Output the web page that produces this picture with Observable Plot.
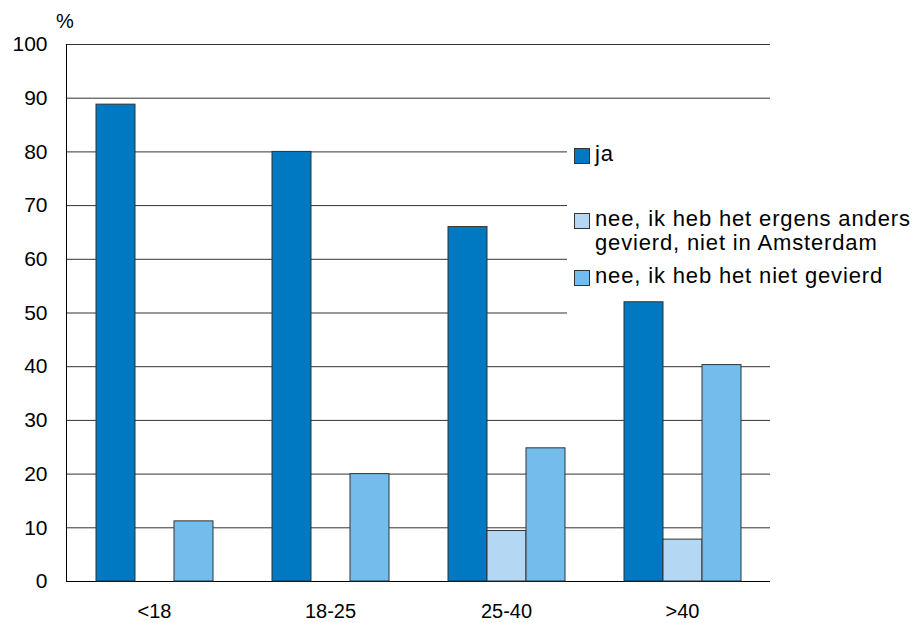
<!DOCTYPE html>
<html>
<head>
<meta charset="utf-8">
<script src="https://cdn.jsdelivr.net/npm/d3@7"></script>
<script src="https://cdn.jsdelivr.net/npm/@observablehq/plot@0.6"></script>
<style>
  html, body { margin: 0; padding: 0; background: white; }
  #wrap { position: relative; width: 916px; height: 623px; font-family: "Liberation Sans", Arial, sans-serif; color: #000; }
  #legend { position: absolute; left: 567px; top: 120px; width: 349px; height: 210px; background: white; }
  .sw { position: absolute; left: 7px; width: 14px; height: 14px; border: 1px solid #333; box-sizing: content-box; }
  .lt { position: absolute; left: 28px; font-size: 22px; letter-spacing: 0.85px; line-height: 24px; white-space: pre-line; }
  #pct { position: absolute; left: 56px; top: 10px; font-size: 20px; }
</style>
</head>
<body>
<div id="wrap"></div>
<script>
const categories = ["<18", "18-25", "25-40", ">40"];
const series = ["ja", "nee, ik heb het ergens anders gevierd, niet in Amsterdam", "nee, ik heb het niet gevierd"];
const legendLabels = ["ja", "nee, ik heb het ergens anders\ngevierd, niet in Amsterdam", "nee, ik heb het niet gevierd"];
const colors = ["#0079C2", "#B4D8F3", "#73BDEC"];
const ja = [88.8, 80, 66, 52];
const elders = [null, null, 9.4, 7.8];
const niet = [11.2, 20, 24.8, 40.3];
const yTicks = [0, 10, 20, 30, 40, 50, 60, 70, 80, 90, 100];

const values = [ja, elders, niet];
const data = [];
categories.forEach((c, i) => {
  series.forEach((s, j) => {
    const v = values[j][i];
    if (v != null) data.push({cat: c, series: s, value: v});
  });
});

const W = 916, H = 623;
const margins = {marginLeft: 66, marginRight: 146, marginTop: 44, marginBottom: 42};
const font = "\"Liberation Sans\", Arial, sans-serif";

// Layer 1: grid, axis lines, y tick labels
const grid = Plot.plot({
  width: W, height: H, ...margins,
  style: {fontFamily: font, fontSize: "21px", color: "#000", background: "white"},
  x: {domain: [0, 1], axis: null},
  y: {domain: [0, 100], ticks: yTicks, tickSize: 0, tickPadding: 19, label: null},
  marks: [
    Plot.ruleY(yTicks.filter(d => d > 0), {stroke: "#333", strokeWidth: 1}),
    Plot.ruleY([0], {stroke: "#000", strokeWidth: 1}),
    Plot.ruleX([0], {stroke: "#000", strokeWidth: 1})
  ]
});

// Layer 3: bars and category axis
const bars = Plot.plot({
  width: W, height: H, ...margins,
  style: {fontFamily: font, fontSize: "20px", color: "#000", background: "transparent"},
  fx: {domain: categories, padding: 0, tickSize: 0, tickPadding: 22, label: null, axis: "bottom"},
  x: {domain: series, paddingInner: 0, paddingOuter: 0.75, axis: null},
  y: {domain: [0, 100], axis: null},
  color: {domain: series, range: colors},
  marks: [
    Plot.barY(data, {fx: "cat", x: "series", y: "value", fill: "series", stroke: "#333", strokeWidth: 1})
  ]
});

const wrap = document.getElementById("wrap");
grid.style.position = "absolute";
grid.style.left = "0px";
grid.style.top = "0px";
wrap.appendChild(grid);

const legend = document.createElement("div");
legend.id = "legend";
const swTops = [28, 93, 150];
const ltTops = [22, 87, 144];
series.forEach((s, j) => {
  const sw = document.createElement("div");
  sw.className = "sw";
  sw.style.top = swTops[j] + "px";
  sw.style.background = colors[j];
  legend.appendChild(sw);
  const lt = document.createElement("div");
  lt.className = "lt";
  lt.style.top = ltTops[j] + "px";
  lt.textContent = legendLabels[j];
  legend.appendChild(lt);
});
wrap.appendChild(legend);

bars.style.position = "absolute";
bars.style.left = "0px";
bars.style.top = "0px";
wrap.appendChild(bars);

const pct = document.createElement("div");
pct.id = "pct";
pct.textContent = "%";
wrap.appendChild(pct);
</script>
</body>
</html>
